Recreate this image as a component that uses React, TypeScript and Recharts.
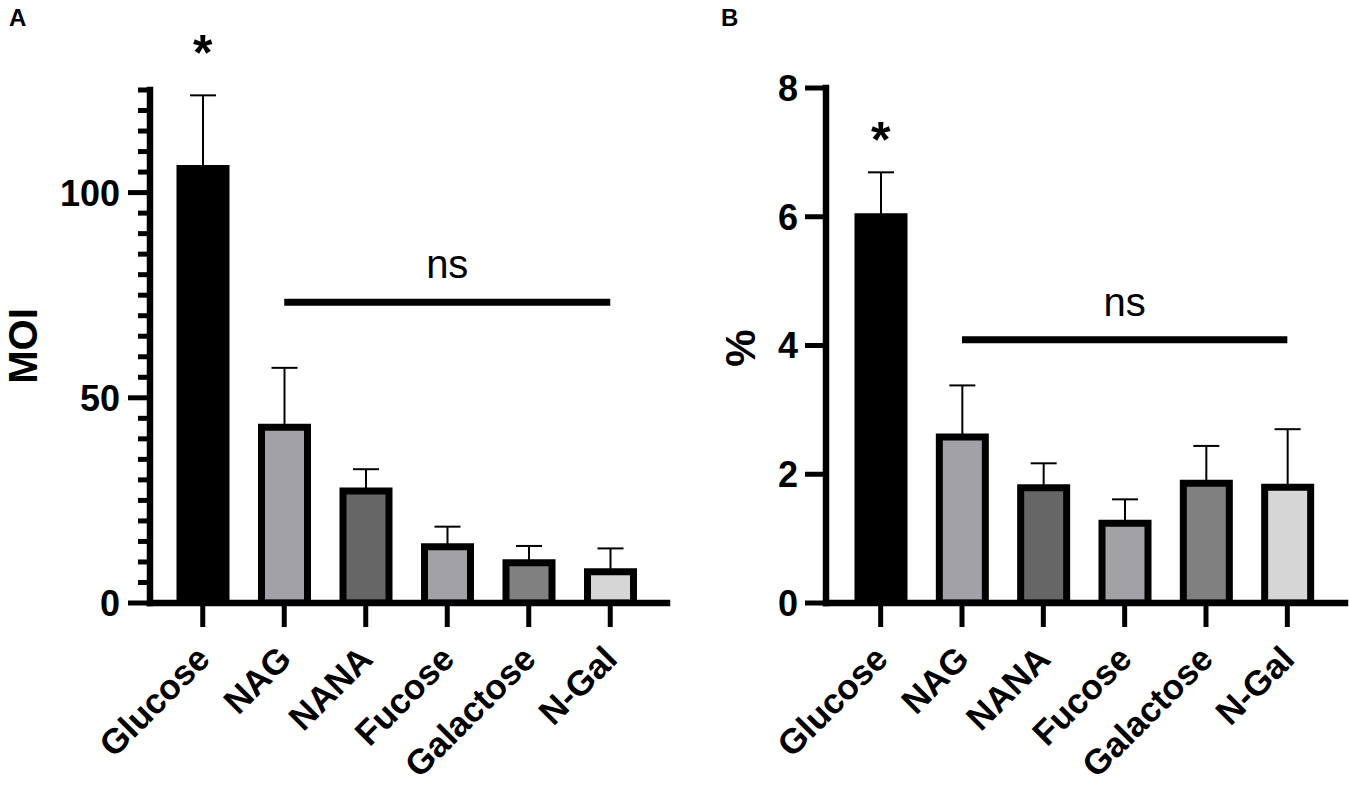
import React from 'react';
import { BarChart, Bar, XAxis, YAxis, Cell, ErrorBar, ReferenceLine, ReferenceDot } from 'recharts';

const FONT = '"Liberation Sans", Arial, Helvetica, sans-serif';

const categories = ['Glucose', 'NAG', 'NANA', 'Fucose', 'Galactose', 'N-Gal'];
const moiMeans = [105.9, 42.8, 27.3, 13.7, 9.8, 7.6];
const moiErrors = [17.8, 14.5, 5.3, 4.9, 4.1, 5.7];
const pctMeans = [6.0, 2.58, 1.79, 1.24, 1.86, 1.8];
const pctErrors = [0.69, 0.8, 0.38, 0.37, 0.58, 0.9];
const barFills = ['#000000', '#a2a1a6', '#666666', '#a2a1a6', '#808080', '#d6d6d6'];

const moiTicks = [0, 5, 10, 15, 20, 25, 30, 35, 40, 45, 50, 55, 60, 65, 70, 75, 80, 85, 90, 95, 100, 105, 110, 115, 120, 125];
const moiMajorTicks = [0, 50, 100];
const pctTicks = [0, 2, 4, 6, 8];
const pctMajorTicks = [0, 2, 4, 6, 8];

const nsFromCategory = 'NAG';
const nsToCategory = 'N-Gal';
const moiNsLevel = 73.3;
const pctNsLevel = 4.09;
const starCategory = 'Glucose';
const moiStarLevel = 136.7;
const pctStarLevel = 7.36;

const moiData = categories.map((c, i) => ({ name: c, value: moiMeans[i], err: [0, moiErrors[i]] }));
const pctData = categories.map((c, i) => ({ name: c, value: pctMeans[i], err: [0, pctErrors[i]] }));

const makeYTick = (majors: number[], majorLen: number, minorLen: number, labelGap: number) => (props: any) => {
  const { x, y, payload } = props;
  const v = payload.value;
  const isMajor = majors.includes(v);
  const len = isMajor ? majorLen : minorLen;
  return (
    <g>
      <line x1={x - len} x2={x} y1={y} y2={y} stroke="#000" strokeWidth={5} />
      {isMajor && (
        <text x={x - labelGap} y={y} dy={12.9} textAnchor="end" fontSize={36} fontWeight="bold" fontFamily={FONT} fill="#000">
          {v}
        </text>
      )}
    </g>
  );
};

const XTick = (props: any) => {
  const { x, y, payload } = props;
  const ex = x + 9;
  const ey = y + 34;
  return (
    <text x={ex} y={ey} transform={`rotate(-45 ${ex} ${ey})`} textAnchor="end" fontSize={35} fontWeight="bold" fontFamily={FONT} fill="#000">
      {payload.value}
    </text>
  );
};

const Star = (props: any) => {
  const { cx, cy } = props;
  return (
    <text x={cx} y={cy + 28} textAnchor="middle" fontSize={50} fontWeight="bold" fontFamily={FONT} fill="#000">
      *
    </text>
  );
};

type PanelProps = {
  data: any[];
  width: number;
  height: number;
  top: number;
  right: number;
  yWidth: number;
  domain: [number, number];
  ticks: number[];
  majors: number[];
  majorLen: number;
  minorLen: number;
  labelGap: number;
  padL: number;
  padR: number;
  nsLevel: number;
  starLevel: number;
};

function Panel(p: PanelProps) {
  return (
    <BarChart width={p.width} height={p.height} data={p.data} margin={{ top: p.top, right: p.right, bottom: 0, left: 0 }}>
      <XAxis
        dataKey="name"
        height={p.height - 603}
        padding={{ left: p.padL, right: p.padR }}
        axisLine={{ stroke: '#000', strokeWidth: 6.5, strokeLinecap: 'square' }}
        tickLine={{ stroke: '#000', strokeWidth: 5 }}
        tickSize={24}
        tickMargin={0}
        interval={0}
        tick={<XTick />}
      />
      <YAxis
        width={p.yWidth}
        domain={p.domain}
        ticks={p.ticks}
        interval={0}
        allowDataOverflow
        axisLine={{ stroke: '#000', strokeWidth: 6.5, strokeLinecap: 'square' }}
        tickLine={false}
        tickSize={0}
        tickMargin={0}
        tick={makeYTick(p.majors, p.majorLen, p.minorLen, p.labelGap)}
      />
      <Bar dataKey="value" barSize={46} stroke="#000" strokeWidth={7} isAnimationActive={false}>
        {p.data.map((d, i) => (
          <Cell key={d.name} fill={barFills[i]} />
        ))}
        <ErrorBar dataKey="err" width={13} stroke="#000" strokeWidth={2} direction="y" />
      </Bar>
      <ReferenceLine
        segment={[{ x: nsFromCategory, y: p.nsLevel }, { x: nsToCategory, y: p.nsLevel }]}
        stroke="#000"
        strokeWidth={7}
        ifOverflow="visible"
        label={{ value: 'ns', position: 'top', offset: 24, fontSize: 40, fill: '#000', fontFamily: FONT }}
      />
      <ReferenceDot x={starCategory} y={p.starLevel} r={0} ifOverflow="visible" shape={<Star />} />
    </BarChart>
  );
}

export default function App() {
  return (
    <div style={{ position: 'absolute', left: 0, top: 0, width: 1349, height: 789, background: '#fff', overflow: 'hidden' }}>
      <div style={{ position: 'absolute', left: 0, top: 0 }}>
        <Panel
          data={moiData}
          width={680}
          height={789}
          top={90}
          right={13}
          yWidth={150}
          domain={[0, 125]}
          ticks={moiTicks}
          majors={moiMajorTicks}
          majorLen={22}
          minorLen={12}
          labelGap={30}
          padL={12}
          padR={16}
          nsLevel={moiNsLevel}
          starLevel={moiStarLevel}
        />
      </div>
      <div style={{ position: 'absolute', left: 690, top: 0 }}>
        <Panel
          data={pctData}
          width={659}
          height={789}
          top={88}
          right={4}
          yWidth={136}
          domain={[0, 8]}
          ticks={pctTicks}
          majors={pctMajorTicks}
          majorLen={21}
          minorLen={21}
          labelGap={28}
          padL={14}
          padR={17}
          nsLevel={pctNsLevel}
          starLevel={pctStarLevel}
        />
      </div>
      <svg width={1349} height={789} style={{ position: 'absolute', left: 0, top: 0, pointerEvents: 'none' }}>
        <text x={9} y={26} fontSize={24} fontWeight="bold" fontFamily={FONT} fill="#000">A</text>
        <text x={721} y={26} fontSize={24} fontWeight="bold" fontFamily={FONT} fill="#000">B</text>
        <text x={37} y={346} transform="rotate(-90 37 346)" textAnchor="middle" fontSize={40} fontWeight="bold" fontFamily={FONT} fill="#000">MOI</text>
        <text x={755} y={348} transform="rotate(-90 755 348)" textAnchor="middle" fontSize={42} fontWeight="bold" fontFamily={FONT} fill="#000">%</text>
      </svg>
    </div>
  );
}
